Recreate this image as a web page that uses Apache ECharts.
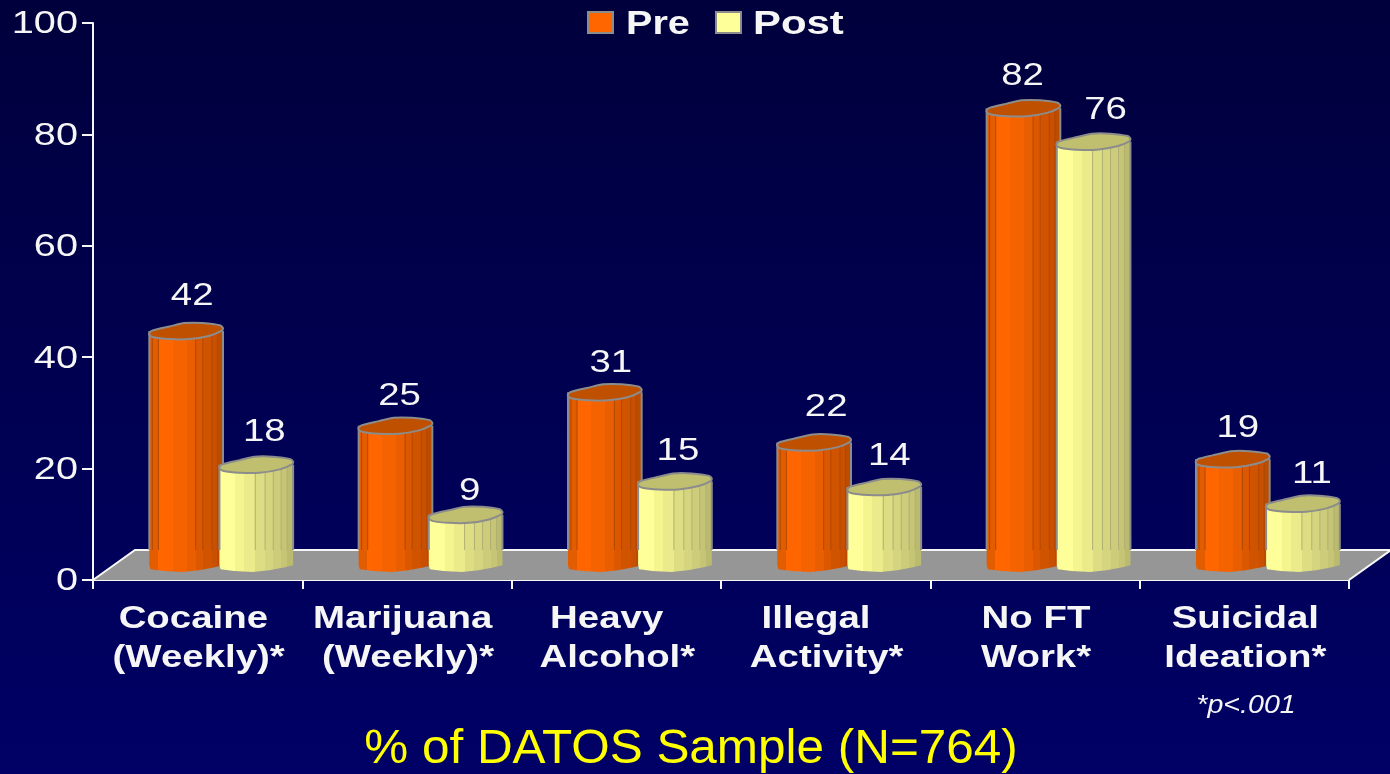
<!DOCTYPE html>
<html>
<head>
<meta charset="utf-8">
<style>html,body{margin:0;padding:0;background:#000050}#c{width:1390px;height:774px}</style>
<script src="https://cdn.jsdelivr.net/npm/echarts@6/dist/echarts.min.js"></script>
</head>
<body>
<div id="c"></div>
<script>
const categories = ['Cocaine \n(Weekly)*', 'Marijuana \n(Weekly)*', 'Heavy  \nAlcohol*', 'Illegal  \nActivity*', 'No FT\nWork*', 'Suicidal\nIdeation*'];
const preValues = [42, 25, 31, 22, 82, 19];
const postValues = [18, 9, 15, 14, 76, 11];
const yTicks = [0, 20, 40, 60, 80, 100];
const titleText = '% of DATOS Sample (N=764)';
const noteText = '*p<.001';

// label placement tweaks, px
const preShift = [[6,-4],[4,1],[6,2],[12,-4],[-1,-1],[5,0]];
const postShift = [[8,-2],[4,7],[3,1],[5,0],[12,-1],[9,1]];

const FONT = '"Liberation Sans", Arial, sans-serif';
const STRETCH = 1.2;
const WHITE = '#F6F6F6';

// cap outline, x in half-widths, y in half-heights
const capShape = [[-1,.45],[-.91,.75],[-.45,1],[.09,1],[.64,.58],[.98,-.08],[1,-.37],[.93,-.7],[.45,-1],[-.05,-1],[-.45,-.58],[-.91,-.08],[-1,.25]];
const bottomShape = [[1,.05],[.75,.35],[.35,.75],[-.1,1],[-.6,.85],[-.97,.6]];

function strips(stops){
  const out=[];
  for(let i=0;i<stops.length-1;i++){
    out.push({offset:stops[i][0],color:stops[i][1]});
    out.push({offset:stops[i+1][0],color:stops[i][1]});
  }
  return out;
}
const preStyle = {
  stops: strips([[0,'#E25C00'],[.12,'#FF6600'],[.315,'#F56200'],[.507,'#E85E00'],[.63,'#DC5800'],[.726,'#D05400'],[.85,'#C85000'],[.925,'#BC4C00'],[1,'#BC4C00']]),
  cap:'#BF5000', line:'#B04800', seams:[.04,.123,.63,.726,.85,.925]
};
const postStyle = {
  stops: strips([[0,'#FFFF99'],[.216,'#F5F590'],[.338,'#EBEB8C'],[.486,'#DDDD83'],[.62,'#D5D57F'],[.73,'#CCCC7A'],[.838,'#C5C575'],[.92,'#BBBB70'],[1,'#BBBB70']]),
  cap:'#BFBF6F', line:'#B0B074', seams:[.486,.62,.73,.838,.92]
};

function stretchedText(text,x,y,size,opt){
  opt=opt||{};
  return {
    type:'text', x:x, y:y, scaleX:opt.scale||STRETCH, scaleY:1, silent:true,
    style:{text:text, x:0, y:0, fill:opt.color||WHITE,
      fontStyle:opt.italic?'italic':'normal', fontWeight:opt.bold?'bold':'normal', fontSize:size, fontFamily:FONT,
      align:opt.align||'center', verticalAlign:'middle',
      lineHeight:opt.lineHeight||size}
  };
}

function cylinder(offsetFrac, look, shifts){
  return function(params, api){
    const i = api.value(0), v = api.value(1);
    const top = api.coord([i, v]);
    const zero = api.coord([i, 0]);
    const band = api.size([1,0])[0];
    const hw = band*0.176;
    const cx = zero[0] + band*offsetFrac;
    const lift = 15, capH = 8, botH = 7;
    const topY = top[1]-lift, baseY = zero[1]-lift;
    const floorBack = zero[1]-30;
    const kids = [];
    const body = [[cx-hw,topY],[cx+hw,topY],[cx+hw,baseY]];
    bottomShape.forEach(p=>body.push([cx+p[0]*hw, baseY+p[1]*botH]));
    body.push([cx-hw,baseY]);
    kids.push({type:'polygon',shape:{points:body,smooth:0},
      style:{fill:new echarts.graphic.LinearGradient(0,0,1,0,look.stops),stroke:null}});
    look.seams.forEach(s=>{
      const sx=cx-hw+2*hw*s;
      kids.push({type:'line',shape:{x1:sx,y1:topY,x2:sx,y2:floorBack},style:{stroke:look.line,lineWidth:1}});
    });
    const edgeEnd = Math.max(floorBack, topY);
    kids.push({type:'line',shape:{x1:cx-hw,y1:topY,x2:cx-hw,y2:edgeEnd},style:{stroke:'#8C8C8C',lineWidth:2}});
    kids.push({type:'line',shape:{x1:cx+hw,y1:topY,x2:cx+hw,y2:edgeEnd},style:{stroke:'#8C8C8C',lineWidth:2}});
    kids.push({type:'polygon',shape:{points:capShape.map(p=>[cx+p[0]*hw, topY+p[1]*capH]),smooth:0.2},
      style:{fill:look.cap,stroke:'#8C8C8C',lineWidth:2}});
    const sh = shifts[i];
    kids.push(stretchedText(String(v), cx+sh[0], top[1]-46+sh[1], 32));
    return {type:'group',children:kids};
  };
}

const option = {
  animation:false,
  backgroundColor:new echarts.graphic.LinearGradient(0,0,0,1,[{offset:0,color:'#00003C'},{offset:1,color:'#000066'}]),
  grid:{left:93,right:41,top:23,bottom:194,containLabel:false},
  xAxis:{type:'category',data:categories,boundaryGap:true,
    axisLine:{show:true,lineStyle:{color:WHITE,width:2}},
    axisTick:{show:true,length:9,alignWithLabel:false,lineStyle:{color:WHITE,width:2}},
    axisLabel:{show:false},splitLine:{show:false}},
  yAxis:{type:'value',min:0,max:100,interval:20,
    axisLine:{show:true,lineStyle:{color:WHITE,width:2}},
    axisTick:{show:true,length:11,lineStyle:{color:WHITE,width:2}},
    axisLabel:{show:false},splitLine:{show:false}},
  graphic:[
    {type:'rect',shape:{x:588,y:12,width:25,height:21},style:{fill:'#FF6600',stroke:'#8C8C8C',lineWidth:2},silent:true},
    stretchedText('Pre',626,25,33,{bold:true,align:'left',scale:1.2}),
    {type:'rect',shape:{x:716,y:12,width:25,height:21},style:{fill:'#FFFF99',stroke:'#8C8C8C',lineWidth:2},silent:true},
    stretchedText('Post',753,25,33,{bold:true,align:'left',scale:1.27}),
    stretchedText(noteText,1246,706,26,{italic:true,scale:1.1}),
    stretchedText(titleText,691,750,48,{color:'#FFFF00',scale:1.03})
  ],
  series:[
    {type:'custom',name:'Floor',silent:true,z:1,data:[[0,0]],encode:{x:0,y:1},
      renderItem(params,api){
        const band=api.size([1,0])[0];
        const a=api.coord([0,0]), b=api.coord([categories.length-1,0]);
        const l=a[0]-band/2, r=b[0]+band/2, y=a[1];
        const dx=42, dy=30;
        return {type:'group',children:[
          {type:'polygon',shape:{points:[[l,y],[r,y],[r+dx,y-dy],[l+dx,y-dy]]},style:{fill:'#969696',stroke:null}},
          {type:'polyline',shape:{points:[[l,y],[l+dx,y-dy],[r+dx,y-dy],[r,y]]},style:{fill:null,stroke:WHITE,lineWidth:2}}
        ]};
      }},
    {type:'custom',name:'Pre',silent:true,z:3,data:preValues.map((v,i)=>[i,v]),encode:{x:0,y:1},
      renderItem:cylinder(-0.055,preStyle,preShift)},
    {type:'custom',name:'Post',silent:true,z:4,data:postValues.map((v,i)=>[i,v]),encode:{x:0,y:1},
      renderItem:cylinder(0.28,postStyle,postShift)},
    {type:'custom',name:'Y labels',silent:true,z:5,data:yTicks.map(t=>[0,t]),encode:{x:0,y:1},
      renderItem(params,api){
        const t=api.value(1), p=api.coord([0,t]);
        return stretchedText(String(t),78,p[1]+1.5,32,{align:'right',scale:1.24});
      }},
    {type:'custom',name:'X labels',silent:true,z:5,data:categories.map((c,i)=>[i,0]),encode:{x:0,y:1},
      renderItem(params,api){
        const i=api.value(0), p=api.coord([i,0]);
        return stretchedText(categories[i],p[0]+1,p[1]+59,32,{bold:true,lineHeight:39});
      }}
  ]
};
const chart = echarts.init(document.getElementById('c'),null,{renderer:'canvas'});
chart.setOption(option);
</script>
</body>
</html>
